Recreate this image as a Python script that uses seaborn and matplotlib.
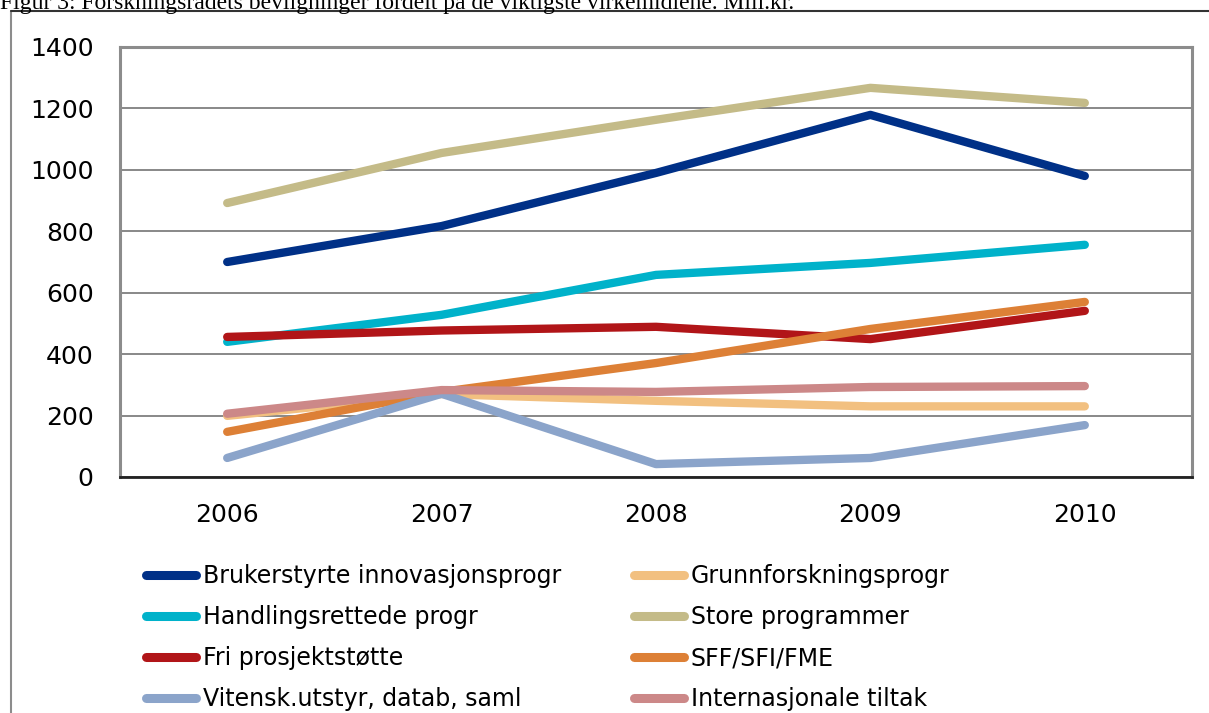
import numpy as np
import pandas as pd
import matplotlib.pyplot as plt
import seaborn as sns
from matplotlib.lines import Line2D

# data (Mill. kr)
years = [2006, 2007, 2008, 2009, 2010]
brukerstyrte = [700, 817, 990, 1179, 980]
grunnforskning = [199, 270, 248, 230, 230]
handlingsrettede = [440, 528, 658, 697, 756]
store_progr = [892, 1055, 1163, 1267, 1218]
fri_prosjekt = [456, 477, 489, 449, 541]
sff_sfi_fme = [147, 277, 371, 482, 570]
vitensk = [62, 271, 42, 62, 169]
internasjonale = [206, 283, 277, 293, 296]

series = {
    'Brukerstyrte innovasjonsprogr': brukerstyrte,
    'Grunnforskningsprogr': grunnforskning,
    'Handlingsrettede progr': handlingsrettede,
    'Store programmer': store_progr,
    'Fri prosjektstøtte': fri_prosjekt,
    'SFF/SFI/FME': sff_sfi_fme,
    'Vitensk.utstyr, datab, saml': vitensk,
    'Internasjonale tiltak': internasjonale,
}
farger = ['#003087', '#F2C080', '#00B2CA', '#C4BB88',
          '#B11518', '#DD8036', '#8BA4CA', '#CC8888']

rows = []
for navn, vals in series.items():
    for y, v in zip(years, vals):
        rows.append({'År': y, 'Mill.kr': v, 'Virkemiddel': navn})
df = pd.DataFrame(rows)

sns.set_style('white')
plt.rcParams['font.family'] = ['DejaVu Sans']
plt.rcParams['text.color'] = 'black'
plt.rcParams['xtick.color'] = 'black'
plt.rcParams['ytick.color'] = 'black'

fig = plt.figure(figsize=(12.09, 7.13), dpi=100)
ax = fig.add_axes([120 / 1209, 1 - 477 / 713, 1072 / 1209, 430 / 713])

sns.lineplot(data=df, x='År', y='Mill.kr', hue='Virkemiddel',
             palette=farger, linewidth=6, ax=ax, legend=False,
             solid_capstyle='round', solid_joinstyle='round', zorder=3)

ax.set_xlim(2005.5, 2010.5)
ax.set_ylim(0, 1400)
ax.set_yticks(range(0, 1401, 200))
ax.set_xticks(years)
ax.set_xticklabels([str(y) for y in years])
ax.tick_params(axis='y', length=0, pad=19, labelsize=18)
ax.tick_params(axis='x', length=0, pad=19, labelsize=18)
ax.set_xlabel('')
ax.set_ylabel('')
ax.yaxis.grid(True, color='#7f7f7f', linewidth=1.3)
ax.set_axisbelow(True)
for side in ['left', 'top', 'right']:
    ax.spines[side].set_color('#8c8c8c')
    ax.spines[side].set_linewidth(2.2)
ax.spines['bottom'].set_color('#222222')
ax.spines['bottom'].set_linewidth(2)

# legend in two columns, filled row by row like the original
names = list(series.keys())
handles = [Line2D([0], [0], color=c, linewidth=6.5, solid_capstyle='round')
           for c in farger]
order = [0, 2, 4, 6, 1, 3, 5, 7]
fig.legend([handles[i] for i in order], [names[i] for i in order],
           ncol=2, loc='upper left', bbox_to_anchor=(146 / 1209, 1 - 564 / 713),
           frameon=False, fontsize=17, handlelength=2.1, handletextpad=0.3,
           columnspacing=3.1, labelspacing=0.72, borderaxespad=0, borderpad=0)

# clipped caption at the top and the outer frame
fig.text(0.0, 1 - 9 / 713,
         'Figur 3: Forskningsrådets bevilgninger fordelt på de viktigste virkemidlene. Mill.kr.',
         family='Liberation Serif', fontsize=17, va='baseline', ha='left')
fig.add_artist(Line2D([11 / 1209, 11 / 1209], [0, 1 - 11 / 713],
                      transform=fig.transFigure, color='#8c8c8c', linewidth=1.5))
fig.add_artist(Line2D([11 / 1209, 1], [1 - 11 / 713, 1 - 11 / 713],
                      transform=fig.transFigure, color='#333333', linewidth=1.5))

fig.savefig('out.png', dpi=100)
